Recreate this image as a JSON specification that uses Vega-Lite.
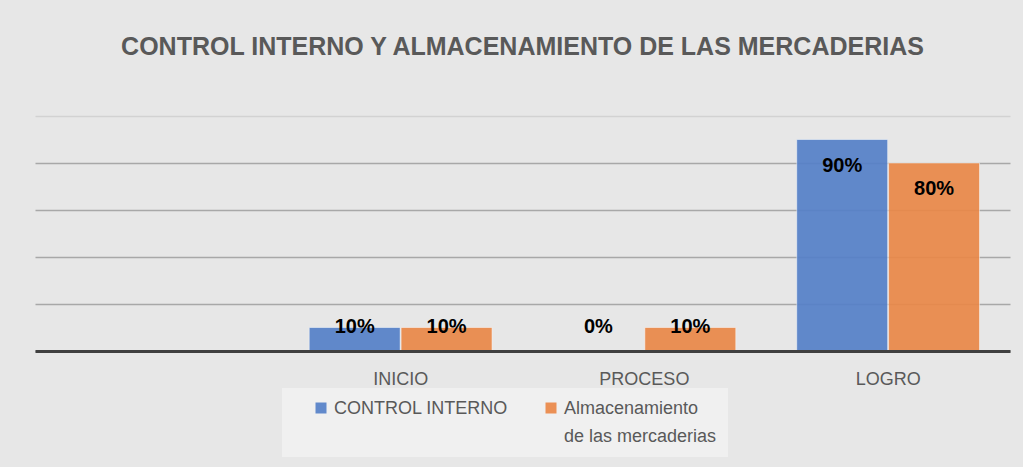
{
  "$schema": "https://vega.github.io/schema/vega-lite/v6.json",
  "width": 975,
  "height": 235,
  "padding": {"left": 35, "right": 13, "top": 35, "bottom": 10},
  "background": "#e7e7e7",
  "title": {
    "text": "CONTROL INTERNO Y ALMACENAMIENTO DE LAS MERCADERIAS",
    "font": "Liberation Sans",
    "fontSize": 25,
    "fontWeight": "bold",
    "color": "#595959",
    "anchor": "middle",
    "offset": 56
  },
  "config": {
    "view": {"stroke": null},
    "style": {"guide-label": {"lineHeight": 28, "dy": -8}}
  },
  "data": {
    "values": [
      {"fase": "INICIO", "serie": "CONTROL INTERNO", "valor": 0.10},
      {"fase": "INICIO", "serie": "Almacenamiento de las mercaderias", "valor": 0.10},
      {"fase": "PROCESO", "serie": "CONTROL INTERNO", "valor": 0.0},
      {"fase": "PROCESO", "serie": "Almacenamiento de las mercaderias", "valor": 0.10},
      {"fase": "LOGRO", "serie": "CONTROL INTERNO", "valor": 0.90},
      {"fase": "LOGRO", "serie": "Almacenamiento de las mercaderias", "valor": 0.80}
    ]
  },
  "encoding": {
    "x": {
      "field": "fase",
      "type": "nominal",
      "scale": {"domain": [" ", "INICIO", "PROCESO", "LOGRO"], "paddingInner": 0.25, "paddingOuter": 0.125},
      "axis": {
        "title": null,
        "labelAngle": 0,
        "ticks": false,
        "labelPadding": 27,
        "labelFont": "Liberation Sans",
        "labelFontSize": 18,
        "labelColor": "#595959",
        "domainColor": "#404040",
        "domainWidth": 3,
        "zindex": 1
      }
    },
    "xOffset": {
      "field": "serie",
      "type": "nominal",
      "scale": {"domain": ["CONTROL INTERNO", "Almacenamiento de las mercaderias"], "paddingInner": 0.01}
    }
  },
  "layer": [
    {
      "mark": {"type": "bar", "opacity": 0.92, "stroke": "#ffffff", "strokeWidth": 1, "strokeOpacity": 0.5},
      "encoding": {
        "y": {
          "field": "valor",
          "type": "quantitative",
          "scale": {"domain": [0, 1]},
          "axis": {
            "title": null,
            "values": [0, 0.2, 0.4, 0.6, 0.8, 1],
            "labels": false,
            "ticks": false,
            "domain": false,
            "gridColor": {"condition": {"test": "datum.value == 1", "value": "#d2d2d2"}, "value": "#a8a8a8"},
            "gridWidth": 1.5
          }
        },
        "color": {
          "field": "serie",
          "type": "nominal",
          "scale": {"domain": ["CONTROL INTERNO", "Almacenamiento de las mercaderias"], "range": ["#5580c8", "#ea8848"]},
          "legend": {
            "title": null,
            "orient": "none",
            "direction": "horizontal",
            "legendX": 247,
            "legendY": 272,
            "fillColor": "#f0f0f0",
            "padding": 11,
            "symbolOffset": 19,
            "symbolType": "square",
            "symbolSize": 121,
            "symbolStrokeWidth": 0,
            "labelFont": "Liberation Sans",
            "labelFontSize": 18,
            "labelColor": "#595959",
            "labelLimit": 400,
            "labelOffset": 4,
            "labelBaseline": "top",
            "columnPadding": 14,
            "labelExpr": "datum.label == 'Almacenamiento de las mercaderias' ? ['Almacenamiento', 'de las mercaderias'] : [datum.label, '']"
          }
        }
      }
    },
    {
      "transform": [{"filter": "datum.valor >= 0.5"}],
      "mark": {"type": "text", "font": "Liberation Sans", "fontSize": 20, "fontWeight": "bold", "color": "#000000", "baseline": "middle", "dy": 26},
      "encoding": {
        "y": {"field": "valor", "type": "quantitative"},
        "text": {"field": "valor", "type": "quantitative", "format": ".0%"}
      }
    },
    {
      "transform": [{"filter": "datum.valor < 0.5"}],
      "mark": {"type": "text", "font": "Liberation Sans", "fontSize": 20, "fontWeight": "bold", "color": "#000000", "baseline": "middle", "dy": -24},
      "encoding": {
        "y": {"datum": 0, "type": "quantitative"},
        "text": {"field": "valor", "type": "quantitative", "format": ".0%"}
      }
    }
  ]
}
